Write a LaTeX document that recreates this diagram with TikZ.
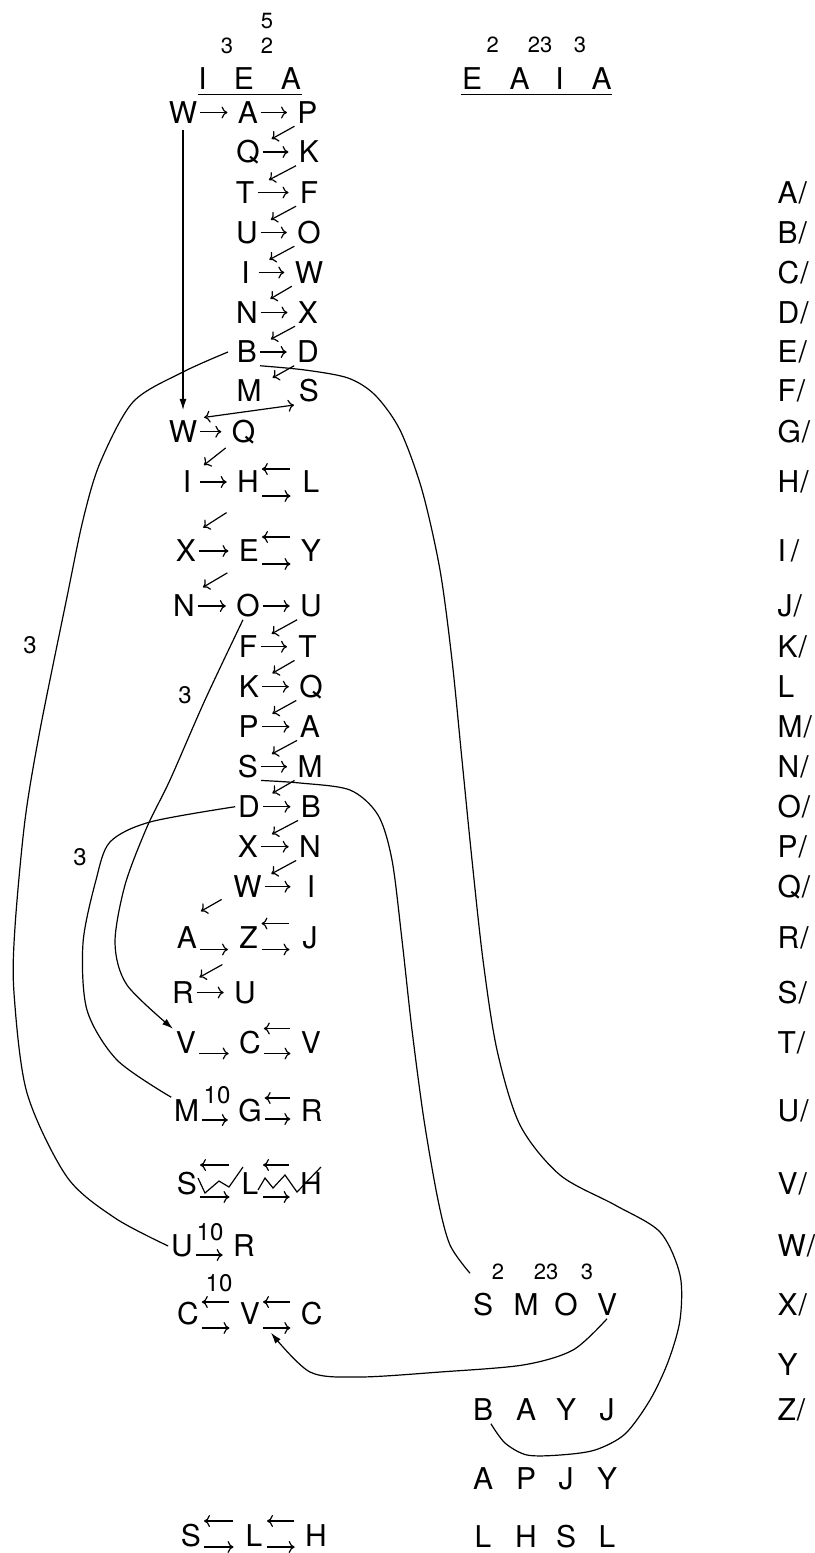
\documentclass[tikz,border=0pt]{standalone}
\usepackage{fontspec}
\setmainfont{TeX Gyre Heros}
\usetikzlibrary{arrows.meta}

\begin{document}
\begin{tikzpicture}[x=1pt, y=-1pt, >={To[length=6pt,width=12pt]}, line width=1.2pt, font=\fontsize{30}{36}\selectfont]
\tikzset{
    lt/.style={inner sep=0pt, outer sep=3pt, minimum width=20pt, text height=21.5pt, text depth=0pt},
    hd/.style={inner sep=0pt, text height=21.5pt, text depth=0pt},
    ix/.style={hd, anchor=west},
    sup/.style={inner sep=0pt, font=\fontsize{22}{26}\selectfont},
    lab/.style={inner sep=0pt, font=\fontsize{24}{28}\selectfont},
    ar/.style={->, shorten >=7.5pt},
    ra/.style={<-, shorten >=8pt},
    dg/.style={->, shorten >=27pt},
    dgl/.style={->, shorten <=8pt, shorten >=7pt},
    head/.style={-{Latex[length=11pt,width=7pt]}}
}
\useasboundingbox (0,0) rectangle (814,1553);

% --- headers ---
\node (tl1) at (202.5,79) [hd] {I};
\node (tl2) at (244,79) [hd] {E};
\node (tl3) at (291,79) [hd] {A};
\node (sl1) at (227,46) [sup] {3};
\node (sl2) at (267,46) [sup] {2};
\node (sl3) at (267,21) [sup] {5};
\draw ([yshift=-4.5pt]tl1.south west) -- ([yshift=-4.5pt]tl3.south east);

\node (tr1) at (472,79) [hd] {E};
\node (tr2) at (519.5,79) [hd] {A};
\node (tr3) at (559.5,79) [hd] {I};
\node (tr4) at (601.7,79) [hd] {A};
\node (sr1) at (492.7,45) [sup] {2};
\node (sr2) at (540,45) [sup] {23};
\node (sr3) at (580,45) [sup] {3};
\draw ([yshift=-4.5pt]tr1.south west) -- ([yshift=-4.5pt]tr4.south east);

% --- left chain ---
\node (l1) at (183,112.5) [lt] {W};
\node (m1) at (248,112.5) [lt] {A};
\node (r1) at (307.5,112.5) [lt] {P};
\node (m2) at (248,152) [lt] {Q};
\node (r2) at (309,152) [lt] {K};
\node (m3) at (245,192.5) [lt] {T};
\node (r3) at (309,192.5) [lt] {F};
\node (m4) at (247,232.5) [lt] {U};
\node (r4) at (309,232.5) [lt] {O};
\node (m5) at (245.5,272.5) [lt] {I};
\node (r5) at (309,272.5) [lt] {W};
\node (m6) at (247,312.5) [lt] {N};
\node (r6) at (308,312.5) [lt] {X};
\node (m7) at (247,352) [lt] {B};
\node (r7) at (308,352) [lt] {D};
\node (m8) at (249,391) [lt] {M};
\node (r8) at (309,391) [lt] {S};
\node (l9) at (183,431.7) [lt] {W};
\node (m9) at (243.5,431.7) [lt] {Q};
\node (l10) at (187,482) [lt] {I};
\node (m10) at (248,482) [lt] {H};
\node (r10) at (311,482) [lt] {L};
\node (l11) at (186,551) [lt] {X};
\node (m11) at (249,551) [lt] {E};
\node (r11) at (311,551) [lt] {Y};
\node (l12) at (184,606) [lt] {N};
\node (m12) at (248,606) [lt] {O};
\node (r12) at (311,606) [lt] {U};
\node (m13) at (248,646.7) [lt] {F};
\node (r13) at (307.5,646.7) [lt] {T};
\node (m14) at (249,686.7) [lt] {K};
\node (r14) at (311,686.7) [lt] {Q};
\node (m15) at (248.7,726.7) [lt] {P};
\node (r15) at (310,726.7) [lt] {A};
\node (m16) at (248,766.7) [lt] {S};
\node (r16) at (310,766.7) [lt] {M};
\node (m17) at (249,806.7) [lt] {D};
\node (r17) at (311,806.7) [lt] {B};
\node (m18) at (248,846.7) [lt] {X};
\node (r18) at (310,846.7) [lt] {N};
\node (m19) at (247.5,886.7) [lt] {W};
\node (r19) at (311,886.7) [lt] {I};
\node (l20) at (187,937.5) [lt] {A};
\node (m20) at (248.5,937.5) [lt] {Z};
\node (r20) at (310,937.5) [lt] {J};
\node (l21) at (183,992.5) [lt] {R};
\node (m21) at (245,992.5) [lt] {U};
\node (l22) at (186,1042.5) [lt] {V};
\node (m22) at (250,1042.5) [lt] {C};
\node (r22) at (311,1042.5) [lt] {V};
\node (l23) at (186.7,1111) [lt] {M};
\node (m23) at (250,1111) [lt] {G};
\node (r23) at (311.7,1111) [lt] {R};
\node (l24) at (187,1184) [lt] {S};
\node (m24) at (250,1184) [lt] {L};
\node (r24) at (311,1184) [lt] {H};
\node (l25) at (182,1246) [lt] {U};
\node (m25) at (244,1246) [lt] {R};
\node (l26) at (188,1314) [lt] {C};
\node (m26) at (250,1314) [lt] {V};
\node (r26) at (311.7,1314) [lt] {C};
\node (l27) at (191,1536) [lt] {S};
\node (m27) at (254,1536) [lt] {L};
\node (r27) at (316,1536) [lt] {H};

\node (n23) at (217,1095) [lab] {10};
\node (n25) at (210,1232) [lab] {10};
\node (n26) at (219,1283) [lab] {10};

% --- right block ---
\node (g11) at (483,1305) [lt] {S};
\node (g12) at (526,1305) [lt] {M};
\node (g13) at (566,1305) [lt] {O};
\node (g14) at (607,1305) [lt] {V};
\node (sg1) at (498,1272) [sup] {2};
\node (sg2) at (546,1272) [sup] {23};
\node (sg3) at (587,1272) [sup] {3};
\node (g21) at (483,1410) [lt] {B};
\node (g22) at (526,1410) [lt] {A};
\node (g23) at (566,1410) [lt] {Y};
\node (g24) at (607,1410) [lt] {J};
\node (g31) at (483,1479) [lt] {A};
\node (g32) at (526,1479) [lt] {P};
\node (g33) at (566,1479) [lt] {J};
\node (g34) at (607,1479) [lt] {Y};
\node (g41) at (483,1537) [lt] {L};
\node (g42) at (526,1537) [lt] {H};
\node (g43) at (566,1537) [lt] {S};
\node (g44) at (607,1537) [lt] {L};

% --- index column ---
\node (iA) at (777,192.5) [ix] {A\kern1pt/};
\node (iB) at (777,232.5) [ix] {B\kern1pt/};
\node (iC) at (777,272.5) [ix] {C\kern1pt/};
\node (iD) at (777,312.5) [ix] {D\kern1pt/};
\node (iE) at (777,352) [ix] {E\kern1pt/};
\node (iF) at (777,391) [ix] {F\kern1pt/};
\node (iG) at (777,431.7) [ix] {G\kern1pt/};
\node (iH) at (777,482) [ix] {H\kern1pt/};
\node (iI) at (777,551) [ix] {I\,/};
\node (iJ) at (777,606) [ix] {J\kern1pt/};
\node (iK) at (777,646.7) [ix] {K\kern1pt/};
\node (iL) at (777,686.7) [ix] {L};
\node (iM) at (777,726.7) [ix] {M\kern1pt/};
\node (iN) at (777,766.7) [ix] {N\kern1pt/};
\node (iO) at (777,806.7) [ix] {O\kern1pt/};
\node (iP) at (777,846.7) [ix] {P\kern1pt/};
\node (iQ) at (777,886.7) [ix] {Q\kern1pt/};
\node (iR) at (777,937.5) [ix] {R\kern1pt/};
\node (iS) at (777,992.5) [ix] {S\kern1pt/};
\node (iT) at (777,1042.5) [ix] {T\kern1pt/};
\node (iU) at (777,1111) [ix] {U\kern1pt/};
\node (iV) at (777,1184) [ix] {V\kern1pt/};
\node (iW) at (777,1246) [ix] {W\kern1pt/};
\node (iX) at (777,1305) [ix] {X\kern1pt/};
\node (iY) at (777,1365) [ix] {Y};
\node (iZ) at (777,1410) [ix] {Z\kern1pt/};

% --- arrows in the rows ---
\draw[ar] (l1.east) -- (m1.west);
\draw[ar] (m1.east) -- (r1.west);
\draw[ar] (m2.east) -- (r2.west);
\draw[ar] (m3.east) -- (r3.west);
\draw[ar] (m4.east) -- (r4.west);
\draw[ar] (m5.east) -- (r5.west);
\draw[ar] (m6.east) -- (r6.west);
\draw[ar] (m7.east) -- (r7.west);
\draw[ar] (l9.east) -- (m9.west);
\draw[ar] (l10.east) -- (m10.west);
\draw[ar] (l11.east) -- (m11.west);
\draw[ar] (l12.east) -- (m12.west);
\draw[ar] (m12.east) -- (r12.west);
\draw[ar] (m13.east) -- (r13.west);
\draw[ar] (m14.east) -- (r14.west);
\draw[ar] (m15.east) -- (r15.west);
\draw[ar] (m16.east) -- (r16.west);
\draw[ar] (m17.east) -- (r17.west);
\draw[ar] (m18.east) -- (r18.west);
\draw[ar] (m19.east) -- (r19.west);
\draw[ar] (l21.east) -- (m21.west);
\draw[ar] ([yshift=-12pt]l20.east) -- ([yshift=-12pt]m20.west);
\draw[ar] ([yshift=-11pt]l22.east) -- ([yshift=-11pt]m22.west);
\draw[ar] ([yshift=-9pt]l23.east) -- ([yshift=-9pt]m23.west);
\draw[ar] ([yshift=-9pt]l25.east) -- ([yshift=-9pt]m25.west);

% back and forth
\draw[ra] ([yshift=13pt]m10.east) -- ([yshift=13pt]r10.west);
\draw[ar] ([yshift=-14pt]m10.east) -- ([yshift=-14pt]r10.west);
\draw[ra] ([yshift=14pt]m11.east) -- ([yshift=14pt]r11.west);
\draw[ar] ([yshift=-13pt]m11.east) -- ([yshift=-13pt]r11.west);
\draw[ra] ([yshift=14pt]m20.east) -- ([yshift=14pt]r20.west);
\draw[ar] ([yshift=-12pt]m20.east) -- ([yshift=-12pt]r20.west);
\draw[ra] ([yshift=14pt]m22.east) -- ([yshift=14pt]r22.west);
\draw[ar] ([yshift=-11pt]m22.east) -- ([yshift=-11pt]r22.west);
\draw[ra] ([yshift=13pt]m23.east) -- ([yshift=13pt]r23.west);
\draw[ar] ([yshift=-8pt]m23.east) -- ([yshift=-8pt]r23.west);
\draw[ra] ([yshift=19pt]l24.east) -- ([yshift=19pt]m24.west);
\draw[ar] ([yshift=-13pt]l24.east) -- ([yshift=-13pt]m24.west);
\draw[ra] ([yshift=19pt]m24.east) -- ([yshift=19pt]r24.west);
\draw[ar] ([yshift=-13pt]m24.east) -- ([yshift=-13pt]r24.west);
\draw[ra] ([yshift=12pt]l26.east) -- ([yshift=12pt]m26.west);
\draw[ar] ([yshift=-14pt]l26.east) -- ([yshift=-14pt]m26.west);
\draw[ra] ([yshift=12pt]m26.east) -- ([yshift=12pt]r26.west);
\draw[ar] ([yshift=-14pt]m26.east) -- ([yshift=-14pt]r26.west);
\draw[ra] ([yshift=15pt]l27.east) -- ([yshift=15pt]m27.west);
\draw[ar] ([yshift=-11pt]l27.east) -- ([yshift=-11pt]m27.west);
\draw[ra] ([yshift=15pt]m27.east) -- ([yshift=15pt]r27.west);
\draw[ar] ([yshift=-11pt]m27.east) -- ([yshift=-11pt]r27.west);

% diagonals
\draw[dg] (r1.south west) -- (m2.center);
\draw[dg] (r2.south west) -- (m3.center);
\draw[dg] (r3.south west) -- (m4.center);
\draw[dg] (r4.south west) -- (m5.center);
\draw[dg] (r5.south west) -- (m6.center);
\draw[dg] (r6.south west) -- (m7.center);
\draw[dg] (r7.south west) -- (m8.center);
\draw[dg] (r12.south west) -- (m13.center);
\draw[dg] (r13.south west) -- (m14.center);
\draw[dg] (r14.south west) -- (m15.center);
\draw[dg] (r15.south west) -- (m16.center);
\draw[dg] (r16.south west) -- (m17.center);
\draw[dg] (r17.south west) -- (m18.center);
\draw[dg] (r18.south west) -- (m19.center);
\draw[dgl, shorten <=4pt, shorten >=5pt] (m9.south west) -- (l10.north east);
\draw[dgl, shorten <=9pt, shorten >=5pt] ([yshift=-12pt]m10.south west) -- ([yshift=7pt]l11.north east);
\draw[dgl, shorten <=10pt, shorten >=6pt] ([yshift=-3pt]m11.south west) -- ([yshift=2pt]l12.north east);
\draw[dgl, shorten <=10pt, shorten >=1pt] ([yshift=6pt]m19.south west) -- ([yshift=12pt]l20.north east);
\draw[dgl, shorten <=15pt, shorten >=3pt] ([yshift=-6pt]m20.south west) -- (l21.north east);

% crossed out
\draw (198,1178) -- (205,1193) -- (219,1181) -- (229,1187) -- (243,1167);
\draw (258,1190) -- (265,1178) -- (273,1188) -- (285,1175) -- (297,1192) -- (321,1167);

% --- long links ---
\draw[head, shorten <=4pt, shorten >=8pt] (l1.south) -- (l9.north);
\draw[<->, shorten <=4pt, shorten >=2pt] (l9.north east) -- (r8.south west);

\draw plot[smooth] coordinates {([xshift=-6pt]m7.west) (183,372) (133,402) (100,463) (83,520) (67,597) (40,730) (25,820) (15,927) (14,993) (27,1093) (67,1177) (115,1218) (l25.west)};
\node (c1) at (30,645) [lab] {3};

\draw plot[smooth] coordinates {(m7.south east) (305,370) (348,378) (375,395) (400,430) (422,490) (440,570) (452,660) (462,760) (472,860) (483,960) (497,1050) (520,1125) (560,1175) (615,1205) (660,1232) (680,1275) (680,1320) (668,1362) (650,1400) (625,1434) (595,1450) (560,1455) (527,1455) (505,1443) (g21.-60)};

\draw plot[smooth] coordinates {(m16.south east) (300,783) (350,790) (378,815) (392,860) (402,940) (412,1030) (424,1120) (438,1200) (450,1245) ([yshift=18pt]g11.north west)};

\draw[head] plot[smooth] coordinates {(m12.-110) (205,700) (170,780) (147,827) (125,885) (115,943) (127,985) (l22.north west)};
\node (c2) at (185,695) [lab] {3};

\draw plot[smooth] coordinates {(m17.west) (150,822) (110,842) (96,880) (83,943) (87,1010) (117,1060) (l23.north west)};
\node (c3) at (80,857) [lab] {3};

\draw[head] plot[smooth] coordinates {(g14.south) (573,1350) (523,1365) (440,1372) (360,1377) (310,1372) ([xshift=8pt,yshift=-5pt]m26.south east)};

\end{tikzpicture}
\end{document}
